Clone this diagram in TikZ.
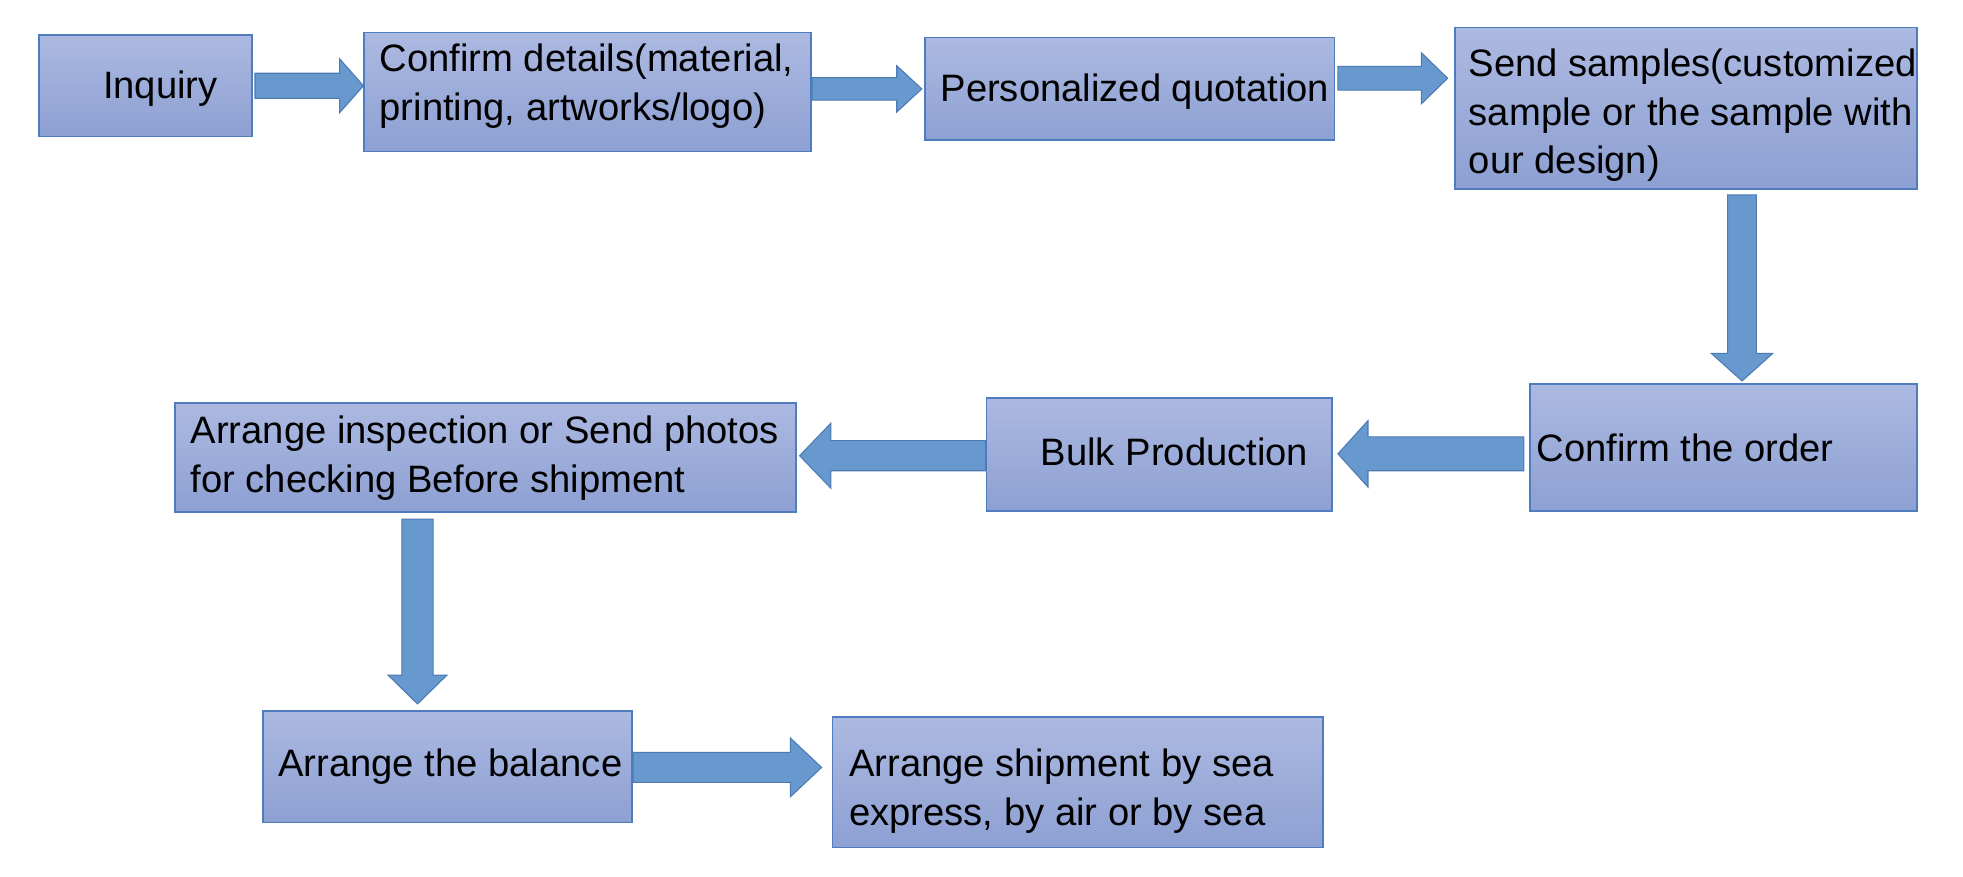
\documentclass[tikz,border=0pt]{standalone}
\usepackage{fontspec}
\setmainfont{Liberation Sans}
\usetikzlibrary{calc}
\definecolor{boxtop}{RGB}{172,185,225}
\definecolor{boxbot}{RGB}{141,160,211}
\definecolor{boxline}{RGB}{79,124,190}
\definecolor{arrfill}{RGB}{103,153,207}
\definecolor{arrline}{RGB}{76,122,180}
\newcommand\blockarrow[5]{%
  \coordinate (ba-h) at ($(#2)!#5*0.025cm!(#1)$);
  \path[blockarr] ($(#1)!#3*0.025cm!90:(#2)$) -- ($(ba-h)!#3*0.025cm!-90:(#1)$)
    -- ($(ba-h)!#4*0.025cm!-90:(#1)$) -- (#2) -- ($(ba-h)!#4*0.025cm!90:(#1)$)
    -- ($(ba-h)!#3*0.025cm!90:(#1)$) -- ($(#1)!#3*0.025cm!-90:(#2)$) -- cycle;
}
\tikzset{
  stepbox/.style={rectangle, draw=boxline, line width=1pt, top color=boxtop, bottom color=boxbot, inner sep=0pt},
  txt/.style={inner sep=0pt, anchor=west, align=left, font=\fontsize{21.7}{27.7}\selectfont},
  blockarr/.style={fill=arrfill, draw=arrline, line width=0.6pt, line join=miter},
}
\begin{document}
\begin{tikzpicture}[x=0.025cm, y=-0.025cm]
\useasboundingbox[fill=white] (0,0) rectangle (1568,700);
% boxes
\node[stepbox, minimum width=170*0.025cm, minimum height=81*0.025cm]  (n1) at (116,68.5) {};
\node[stepbox, minimum width=357*0.025cm, minimum height=95*0.025cm]  (n2) at (469.5,73.5) {};
\node[stepbox, minimum width=327*0.025cm, minimum height=82*0.025cm]  (n3) at (902.5,71) {};
\node[stepbox, minimum width=369*0.025cm, minimum height=129*0.025cm] (n4) at (1346.5,86.5) {};
\node[stepbox, minimum width=309*0.025cm, minimum height=101*0.025cm] (n5) at (1376.5,357.5) {};
\node[stepbox, minimum width=276*0.025cm, minimum height=90*0.025cm]  (n6) at (926,363) {};
\node[stepbox, minimum width=496*0.025cm, minimum height=87*0.025cm]  (n7) at (388,365.5) {};
\node[stepbox, minimum width=295*0.025cm, minimum height=89*0.025cm]  (n8) at (357.5,612.5) {};
\node[stepbox, minimum width=392*0.025cm, minimum height=104*0.025cm] (n9) at (861,625) {};
% texts
\node[txt] (t1) at (82,71) {Inquiry};
\node[txt] (t2) at (303,69) {Confirm details(material,\\printing, artworks/logo)};
\node[txt] (t3) at (751,73) {Personalized quotation};
\node[txt] (t4) at (1173,92) {Send samples(customized\\sample or the sample with\\our design)};
\node[txt] (t5) at (1227,358) {Confirm the order};
\node[txt] (t6) at (831,361) {Bulk Production};
\node[txt] (t7) at (152,366) {Arrange inspection or Send photos\\for checking Before shipment};
\node[txt] (t8) at (222,612) {Arrange the balance};
\node[txt] (t9) at (678,632) {Arrange shipment by sea\\express, by air or by sea};
% arrow end points
\coordinate (a1s) at ($(n1.east)+(2,0)$);      \coordinate (a1e) at (a1s -| n2.west);
\coordinate (a2s) at ($(n2.east)+(0,-2.5)$);   \coordinate (a2e) at ($(a2s -| n3.west)+(-2,0)$);
\coordinate (a3s) at ($(n3.east)+(2,-8.5)$);   \coordinate (a3e) at ($(a3s -| n4.west)+(-5,0)$);
\coordinate (a4s) at ($(n4.south)+(45,4)$);    \coordinate (a4e) at ($(a4s |- n5.north)+(0,-2)$);
\coordinate (a5s) at ($(n5.west)+(-4,5)$);     \coordinate (a5e) at ($(a5s -| n6.east)+(4,0)$);
\coordinate (a6s) at ($(n6.west)+(0,1)$);      \coordinate (a6e) at ($(a6s -| n7.east)+(2,0)$);
\coordinate (a7s) at ($(n7.south)+(-54.5,5)$); \coordinate (a7e) at ($(a7s |- n8.north)+(0,-5)$);
\coordinate (a8s) at ($(n8.east)+(0,0.5)$);    \coordinate (a8e) at ($(a8s -| n9.west)+(-8,0)$);
% block arrows: start, tip, shaft half width, head half width, head length
\blockarrow{a1s}{a1e}{10}{21.5}{19}
\blockarrow{a2s}{a2e}{9}{18.5}{20}
\blockarrow{a3s}{a3e}{9.5}{20.5}{21}
\blockarrow{a4s}{a4e}{11.5}{24.5}{22}
\blockarrow{a5s}{a5e}{13.5}{26.5}{24}
\blockarrow{a6s}{a6e}{12}{26}{25}
\blockarrow{a7s}{a7e}{12.5}{23.5}{23}
\blockarrow{a8s}{a8e}{12}{23.5}{25}
\end{tikzpicture}
\end{document}
